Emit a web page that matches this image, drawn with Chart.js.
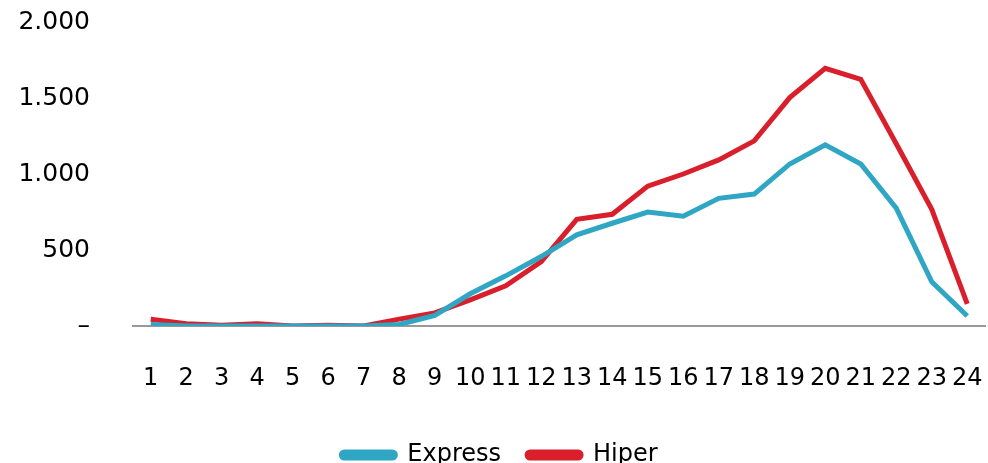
<!DOCTYPE html>
<html>
<head>
<meta charset="utf-8">
<script src="https://cdn.jsdelivr.net/npm/chart.js@4"></script>
<style>
  html, body { margin: 0; padding: 0; background: #fff; }
  #wrap { width: 988px; height: 463px; }
</style>
</head>
<body>
<div id="wrap"><canvas id="lineChart"></canvas></div>
<script>
// DATA
let hours = ['1','2','3','4','5','6','7','8','9','10','11','12',
             '13','14','15','16','17','18','19','20','21','22','23','24'];
let expressData = [10, 0, 0, 0, 0, 0, 0, 10, 70, 212, 330, 457,
                   600, 676, 750, 722, 840, 868, 1066, 1192, 1066, 775, 291, 66];
let hiperData = [45, 15, 5, 15, 0, 5, 0, 45, 86, 172, 265, 424,
                 702, 735, 920, 1000, 1093, 1218, 1503, 1695, 1623, 1199, 768, 146];
let yTicks = [0, 500, 1000, 1500, 2000];

let blue = '#2ea6c4';
let red = '#da1f2c';

Chart.defaults.font.family = 'DejaVu Sans';
Chart.defaults.color = '#000';

// hidden tick marks are used as spacers (tick padding would also pad the chart sides)
let ctx = document.getElementById('lineChart').getContext('2d');
let lineChart = new Chart(ctx, {
    type: 'line',
    data: {
        labels: hours,
        datasets: [{
            label: 'Express',
            data: expressData,
            borderColor: blue,
            backgroundColor: blue,
            borderWidth: 5,
            pointRadius: 0,
            tension: 0
        }, {
            label: 'Hiper',
            data: hiperData,
            borderColor: red,
            backgroundColor: red,
            borderWidth: 5,
            pointRadius: 0,
            tension: 0
        }]
    },
    options: {
        responsive: true,
        maintainAspectRatio: false,
        animation: false,
        layout: { padding: { top: 22, right: 3, left: 14, bottom: -14 } },
        plugins: {
            tooltip: { enabled: false },
            legend: {
                position: 'bottom',
                labels: {
                    font: { size: 24 },
                    boxWidth: 54,
                    boxHeight: 6,
                    padding: 26,
                    useBorderRadius: true,
                    borderRadius: 3
                }
            }
        },
        scales: {
            x: {
                offset: true,
                grid: {
                    drawOnChartArea: false,
                    drawTicks: true,
                    tickLength: 36,
                    tickColor: 'rgba(0,0,0,0)',
                    offset: false
                },
                border: { display: true, color: '#999', width: 2 },
                ticks: {
                    autoSkip: false,
                    maxRotation: 0,
                    padding: 2,
                    font: { size: 24 }
                },
                afterFit: function (s) { s.height = 91; }
            },
            y: {
                min: 0,
                max: 2000,
                afterBuildTicks: function (s) {
                    s.ticks = yTicks.map(v => ({ value: v }));
                },
                grid: {
                    drawOnChartArea: false,
                    drawTicks: true,
                    tickLength: 40,
                    tickColor: 'rgba(0,0,0,0)'
                },
                border: { display: false },
                ticks: {
                    padding: 3,
                    font: { size: 25 },
                    callback: function (v) {
                        if (v === 0) return '–';
                        return v.toString().replace(/\B(?=(\d{3})+(?!\d))/g, '.');
                    }
                },
                afterFit: function (s) { s.width = 119; }
            }
        }
    }
});
</script>
</body>
</html>
